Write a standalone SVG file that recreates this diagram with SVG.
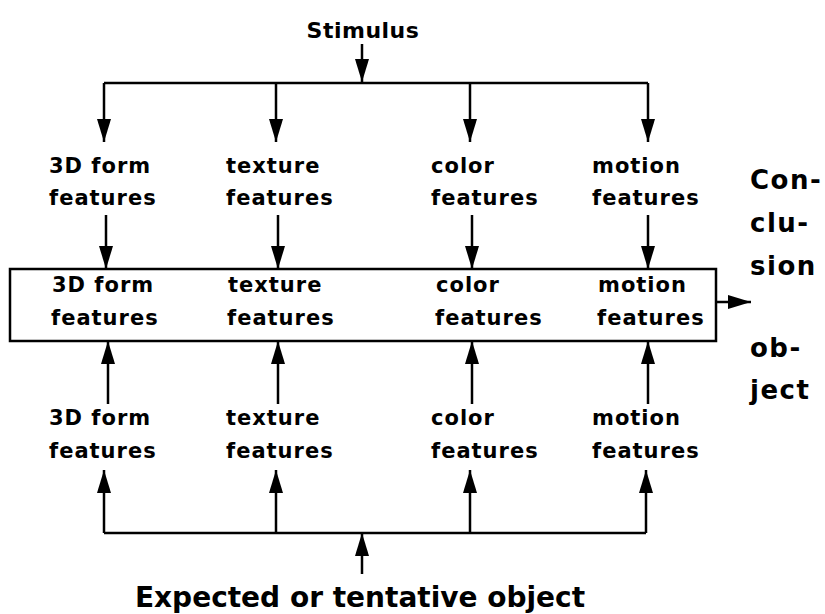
<svg xmlns="http://www.w3.org/2000/svg" width="825" height="614" viewBox="0 0 825 614">
<style>
text{font-family:"DejaVu Sans","Liberation Sans",sans-serif;font-weight:bold;fill:#000}
.l{font-size:21px;letter-spacing:1px}
.b{font-size:26px;letter-spacing:1.5px}
.s{font-size:22px;letter-spacing:0.5px}
.e{font-size:28px}
line,rect{stroke:#000;stroke-width:2.5;fill:none}
</style>
<defs>
<marker id="ah" viewBox="0 0 23 15" refX="23" refY="7.5" markerWidth="23" markerHeight="15" markerUnits="userSpaceOnUse" orient="auto"><path d="M0,0.5 L23,7.5 L0,14.5 Z" fill="#000"/></marker>
</defs>
<rect x="0" y="0" width="825" height="614" style="fill:#fff;stroke:none"/>
<g id="connectors">
<line x1="362" y1="44" x2="362" y2="82" marker-end="url(#ah)"/>
<line x1="104" y1="83" x2="648" y2="83"/>
<line x1="104" y1="83" x2="104" y2="142" marker-end="url(#ah)"/>
<line x1="276" y1="83" x2="276" y2="142" marker-end="url(#ah)"/>
<line x1="470" y1="83" x2="470" y2="142" marker-end="url(#ah)"/>
<line x1="648" y1="83" x2="648" y2="142" marker-end="url(#ah)"/>
<line x1="106" y1="215" x2="106" y2="269" marker-end="url(#ah)"/>
<line x1="278" y1="215" x2="278" y2="269" marker-end="url(#ah)"/>
<line x1="472" y1="215" x2="472" y2="269" marker-end="url(#ah)"/>
<line x1="648" y1="215" x2="648" y2="269" marker-end="url(#ah)"/>
<line x1="108" y1="404" x2="108" y2="341" marker-end="url(#ah)"/>
<line x1="278" y1="404" x2="278" y2="341" marker-end="url(#ah)"/>
<line x1="472" y1="404" x2="472" y2="341" marker-end="url(#ah)"/>
<line x1="648" y1="404" x2="648" y2="341" marker-end="url(#ah)"/>
<line x1="104" y1="533" x2="104" y2="470" marker-end="url(#ah)"/>
<line x1="276" y1="533" x2="276" y2="470" marker-end="url(#ah)"/>
<line x1="470" y1="533" x2="470" y2="470" marker-end="url(#ah)"/>
<line x1="646" y1="533" x2="646" y2="470" marker-end="url(#ah)"/>
<line x1="104" y1="533" x2="646" y2="533"/>
<line x1="362" y1="574" x2="362" y2="533" marker-end="url(#ah)"/>
<line x1="716" y1="302" x2="751" y2="302" marker-end="url(#ah)"/>
</g>
<g id="stimulus"><text class="s" x="363" y="38" text-anchor="middle">Stimulus</text></g>
<g id="top-3d"><text class="l" x="49" y="173">3D form</text><text class="l" x="49" y="205">features</text></g>
<g id="top-texture"><text class="l" x="226" y="173">texture</text><text class="l" x="226" y="205">features</text></g>
<g id="top-color"><text class="l" x="431" y="173">color</text><text class="l" x="431" y="205">features</text></g>
<g id="top-motion"><text class="l" x="592" y="173">motion</text><text class="l" x="592" y="205">features</text></g>
<g id="conclusion-box">
<rect x="10" y="269" width="706" height="72"/>
<text class="l" x="52" y="292">3D form</text><text class="l" x="51" y="325">features</text>
<text class="l" x="228" y="292">texture</text><text class="l" x="227" y="325">features</text>
<text class="l" x="436" y="292">color</text><text class="l" x="435" y="325">features</text>
<text class="l" x="598" y="292">motion</text><text class="l" x="597" y="325">features</text>
</g>
<g id="bottom-3d"><text class="l" x="49" y="425">3D form</text><text class="l" x="49" y="458">features</text></g>
<g id="bottom-texture"><text class="l" x="226" y="425">texture</text><text class="l" x="226" y="458">features</text></g>
<g id="bottom-color"><text class="l" x="431" y="425">color</text><text class="l" x="431" y="458">features</text></g>
<g id="bottom-motion"><text class="l" x="592" y="425">motion</text><text class="l" x="592" y="458">features</text></g>
<g id="conclusion-label">
<text class="b" x="750" y="189">Con-</text>
<text class="b" x="750" y="232">clu-</text>
<text class="b" x="750" y="275">sion</text>
<text class="b" x="750" y="357">ob-</text>
<text class="b" x="750" y="399">ject</text>
</g>
<g id="expected"><text class="e" x="360" y="607" text-anchor="middle">Expected or tentative object</text></g>
</svg>
